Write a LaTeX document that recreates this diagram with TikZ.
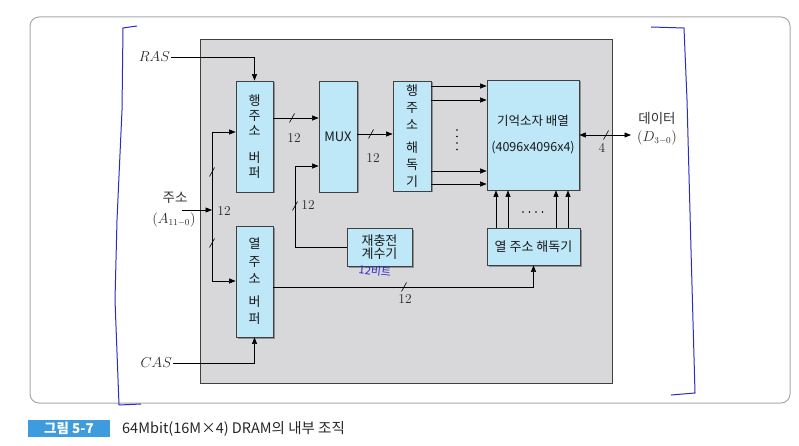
\documentclass[tikz,border=0pt]{standalone}
\usepackage{fontspec}
\newfontfamily\kr{Noto Sans CJK KR}
\usetikzlibrary{arrows.meta,calc,shadows}
\definecolor{panel}{HTML}{D8D8DA}
\definecolor{boxfill}{HTML}{BEE7F7}
\definecolor{pen}{HTML}{2B2BC8}
\definecolor{capblue}{HTML}{3E9BDD}
\definecolor{frame}{HTML}{A8A8A8}
\newcommand\slashmark[1]{\draw[ln] (#1) ++(-2.5,4.5) -- ++(5,-9);}
\begin{document}
\begin{tikzpicture}[x=1pt,y=-1pt,
  blk/.style={draw=black!75, fill=boxfill, line width=0.8pt,
    drop shadow={shadow xshift=1.5pt, shadow yshift=-1.5pt, fill=black!55, opacity=0.7},
    inner sep=0pt, align=center, text=black!90, font=\kr\fontsize{13}{15}\selectfont},
  arr/.style={-{Triangle[length=6.5pt,width=5pt]}, line width=0.6pt},
  arrb/.style={{Triangle[length=6.5pt,width=5pt]}-{Triangle[length=6.5pt,width=5pt]}, line width=0.6pt},
  ln/.style={line width=0.6pt},
  lbl/.style={font=\fontsize{13.5}{15}\selectfont, inner sep=1pt, text=black!85},
  krl/.style={font=\kr\fontsize{13.5}{15}\selectfont, inner sep=1pt, text=black!80}]
\useasboundingbox (0,0) rectangle (799,446);
% outer frame
\draw[frame, line width=1pt, rounded corners=9pt] (30,17) rectangle (790,403);
% grey panel
\draw[black!75, fill=panel, line width=0.8pt] (200,39) rectangle (612,383);

% blocks
\node[blk, minimum width=37pt, minimum height=111pt] (rowbuf) at (254.5,136.5) {행\\주\\소\\[12pt]버\\퍼};
\node[blk, minimum width=38pt, minimum height=111pt, font=\kr\fontsize{13}{14}\selectfont] (mux) at (338,136.5) {MUX};
\node[blk, minimum width=38pt, minimum height=110pt, font=\kr\fontsize{13}{17}\selectfont] (rowdec) at (412,136) {행\\주\\소\\[6pt]해\\독\\기};
\node[blk, minimum width=92pt, minimum height=110pt, font=\kr\fontsize{12.5}{26}\selectfont] (array) at (533,135) {기억소자 배열\\(4096x4096x4)};
\node[blk, minimum width=93pt, minimum height=37pt, font=\kr\fontsize{13}{14}\selectfont] (coldec) at (533.5,246.5) {열 주소 해독기};
\node[blk, minimum width=65pt, minimum height=38pt, font=\kr\fontsize{13}{13.5}\selectfont] (refresh) at (379.5,247) {재충전\\계수기};
\node[blk, minimum width=37pt, minimum height=111pt, font=\kr\fontsize{13}{17.5}\selectfont] (colbuf) at (254.5,281.5) {열\\주\\소\\[5pt]버\\퍼};

% external labels
\node[lbl, anchor=east] (ras) at (171,57) {$RAS$};
\node[lbl, anchor=east] (cas) at (173,363) {$CAS$};
\node[krl] (addr) at (175,198) {주소};
\node[lbl] (addrA) at (174,220) {$(A_{11-0})$};
\node[krl] (data) at (657,118) {데이터};
\node[lbl] (dataD) at (657,138) {$(D_{3-0})$};

% coordinates
\coordinate (ain) at (182,210);
\coordinate (jn) at (212,210);
\coordinate (jtop) at (212,132);
\coordinate (jbot) at (212,281);
\coordinate (rasc) at (254.5,57);
\coordinate (casc) at (254.5,363);
\coordinate (rc) at (295,166);
\coordinate (dout) at (631,135);

% connectors
\draw[arr] (ras.east) -- (rasc) -- (rowbuf.north);
\draw[arr] (cas.east) -- (casc) -- (colbuf.south);
\draw[arr] (ain) -- (jn);
\draw[ln] (jtop) -- (jbot);
\draw[arr] (jtop) -- (rowbuf.west |- jtop);
\draw[arr] (jbot) -- (colbuf.west |- jbot);
\draw[arr] ($(rowbuf.east)+(0,-18.5)$) -- ($(mux.west)+(0,-18.5)$);
\draw[arr] ($(mux.east)+(0,-2.5)$) -- ($(rowdec.west)+(0,-2)$);
\draw[ln] (refresh.west) -| (rc);
\draw[arr] (rc) -- (mux.west |- rc);
\draw[arr] ($(colbuf.east)+(0,5.5)$) -| (coldec.south);
\draw[arrb] (array.east) -- (dout);

% row decoder -> array
\foreach \yy in {86,100,171,184}
  \draw[arr] (rowdec.east |- 0,\yy) -- (array.west |- 0,\yy);
% column decoder -> array
\foreach \xx in {496,508,556,568}
  \draw[arr] (coldec.north -| \xx,0) -- (array.south -| \xx,0);
% dots
\foreach \yy in {130,136.5,143,149.5} \fill (457,\yy) circle (0.9pt);
\foreach \xx in {523,529.5,536,542.5} \fill (\xx,212) circle (0.9pt);

% slash marks
\slashmark{212,172}
\slashmark{212,243}
\slashmark{292,118}
\slashmark{371,134}
\slashmark{295,206}
\slashmark{404,287}
\slashmark{606,135}

% width labels
\node[lbl] at (224,211) {12};
\node[lbl] at (294,138) {12};
\node[lbl] at (373,158) {12};
\node[lbl] at (308,205) {12};
\node[lbl] at (405,299) {12};
\node[lbl] at (602,148) {4};

% handwritten annotations
\draw[pen, line width=1pt, line join=round] (137,26) -- (123,28) -- (122,110) -- (117,220) -- (115,300) -- (119,405) -- (141,404);
\draw[pen, line width=1pt, line join=round] (651,27) -- (684,28) -- (687,100) -- (691,250) -- (695,393) -- (671,395);
\node[pen, font=\kr\fontsize{11}{12}\selectfont, rotate=-6, inner sep=0pt] (note) at (375,271) {12비트};

% caption
\fill[capblue] (28,420) rectangle (110,437);
\node[font=\kr\bfseries\fontsize{13.5}{14}\selectfont, text=white, inner sep=0pt] (capnum) at (69,428.5) {그림 5-7};
\node[font=\kr\fontsize{14.5}{15}\selectfont, anchor=west, inner sep=0pt, text=black!85] (captxt) at (122,428.5) {64Mbit(16M×4) DRAM의 내부 조직};
\end{tikzpicture}
\end{document}
